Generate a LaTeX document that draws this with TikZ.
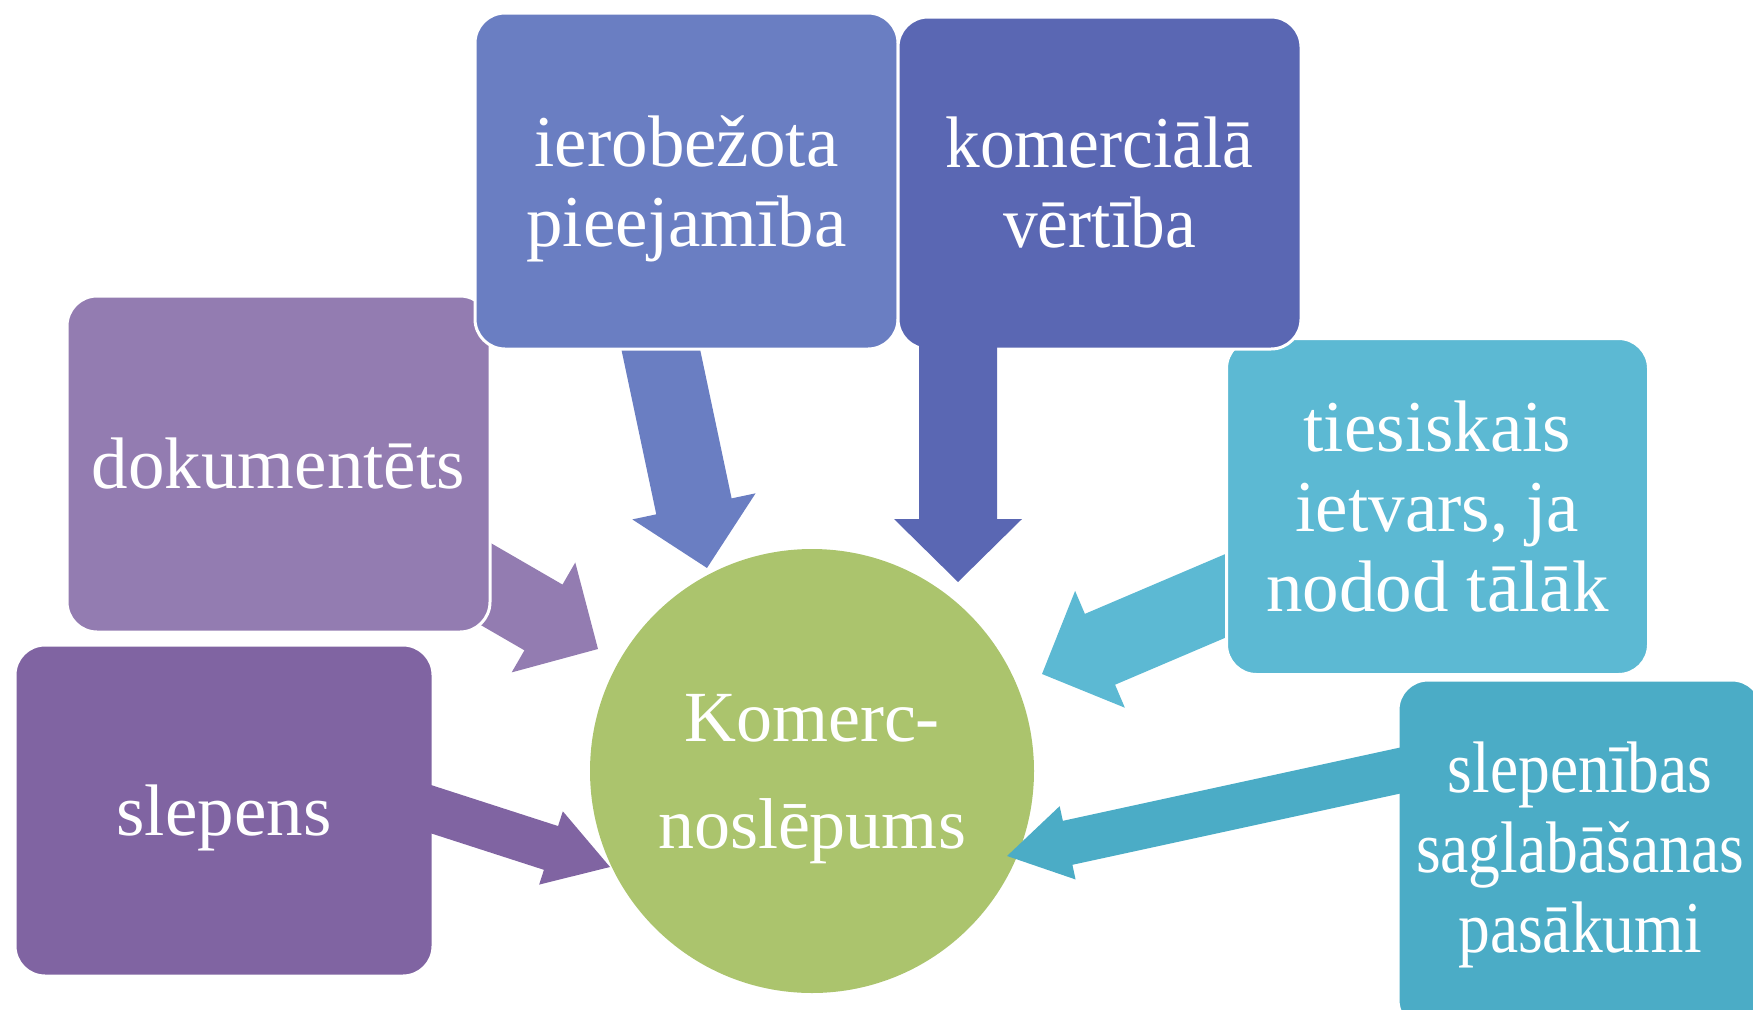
\documentclass[tikz,border=0pt]{standalone}
\usepackage{fontspec}
\setmainfont{Liberation Serif}
\newfontfamily\narrowserif[FakeStretch=0.87]{Liberation Serif}
\newfontfamily\slimserif[FakeStretch=0.95]{Liberation Serif}
\usetikzlibrary{calc}
\definecolor{docpurple}{HTML}{937CB1}
\definecolor{secpurple}{HTML}{8064A2}
\definecolor{accblue}{HTML}{6A7EC2}
\definecolor{valblue}{HTML}{5A67B3}
\definecolor{lawcyan}{HTML}{5CB9D3}
\definecolor{keepcyan}{HTML}{4BACC6}
\definecolor{coregreen}{HTML}{ABC46D}
% tail, tip, shaft width, head width, head length
\newcommand\fatarrow[6]{%
  \fill[#1] let \p1=($(#3)-(#2)$), \n1={atan2(\y1,\x1)}, \n2={veclen(\x1,\y1)} in
    [shift={(#2)}, rotate=\n1]
    (0pt,{-#4/2*1pt}) -- ({(\n2-#6)*1pt},{-#4/2*1pt}) -- ({(\n2-#6)*1pt},{-#5/2*1pt})
    -- ({\n2*1pt},0pt) -- ({(\n2-#6)*1pt},{#5/2*1pt}) -- ({(\n2-#6)*1pt},{#4/2*1pt})
    -- (0pt,{#4/2*1pt}) -- cycle;}

\begin{document}
\begin{tikzpicture}[x=1pt, y=-1pt,
    box/.style = {draw=white, line width=3pt, rounded corners=30pt, text=white,
      align=center, inner sep=0pt, font=\fontsize{73}{80}\selectfont},
    core/.style = {circle, fill=coregreen, text=white, align=center, inner sep=0pt,
      minimum size=444pt, text depth=0pt, font=\fontsize{72}{107}\selectfont}]
  \useasboundingbox (0,0) rectangle (1753,1009);
  \node[core] (kn) at (812,771) {Komerc-\\noslēpums};
  \coordinate (doc-out) at (382,524);   \coordinate (doc-in) at (598,649);
  \coordinate (sec-out) at (415,804);   \coordinate (sec-in) at (610,867);
  \coordinate (acc-out) at (649,294);   \coordinate (acc-in) at (707,568);
  \coordinate (val-out) at (958,237);   \coordinate (val-in) at (958,582);
  \coordinate (law-out) at (1272,576);  \coordinate (law-in) at (1042,674);
  \coordinate (keep-out) at (1421,766); \coordinate (keep-in) at (1007,856);
  \fatarrow{docpurple}{doc-out}{doc-in}{76}{127}{63}
  \fatarrow{accblue}{acc-out}{acc-in}{77}{126}{63}
  \fatarrow{lawcyan}{law-out}{law-in}{77}{127}{63}
  \node[box, fill=docpurple, minimum width=423pt, minimum height=336pt] (doc) at (278.5,464) {dokumentēts};
  \node[box, fill=secpurple, minimum width=418pt, minimum height=331pt, text depth=0pt] (sec) at (224,810.5) {slepens};
  \node[box, fill=accblue, minimum width=423pt, minimum height=336pt, text depth=0pt] (acc) at (686.5,181) {ierobežota\\pieejamība};
  \node[box, fill=lawcyan, minimum width=422pt, minimum height=336pt] (law) at (1437.5,506.5) {tiesiskais\\ietvars, ja\\nodod tālāk};
  \node[box, fill=valblue, minimum width=403pt, minimum height=332pt] (val) at (1099.5,183) {\slimserif komerciālā\\\slimserif vērtība};
  \node[box, fill=keepcyan, minimum width=364pt, minimum height=350pt] (keep) at (1580,855) {\narrowserif slepenības\\\narrowserif saglabāšanas\\\narrowserif pasākumi};
  \fatarrow{secpurple}{sec-out}{sec-in}{46}{77}{62}
  \fatarrow{valblue}{val-out}{val-in}{78}{128}{63}
  \fatarrow{keepcyan}{keep-out}{keep-in}{45}{75}{62}
\end{tikzpicture}
\end{document}
